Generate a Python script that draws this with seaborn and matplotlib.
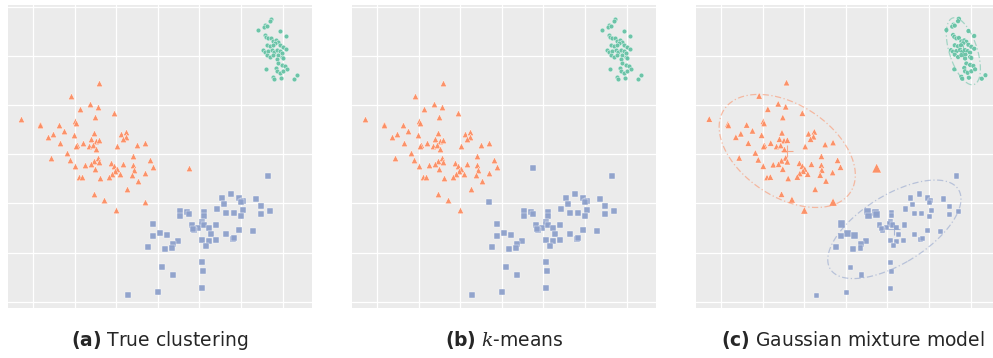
import numpy as np
import pandas as pd
import matplotlib
matplotlib.use("Agg")
import matplotlib.pyplot as plt
import seaborn as sns

# ---------------------------------------------------------------------------
# Data: three 2-D clusters (feature space units, grid spacing = 1)
# ---------------------------------------------------------------------------
c1_x = [5.72, 5.70, 5.59, 5.56, 5.62, 5.42, 5.95, 6.09, 5.58, 5.61,
        5.66, 5.72, 5.78, 5.85, 5.90, 5.82, 5.62, 5.70, 5.77, 5.95,
        6.02, 6.09, 5.53, 5.58, 5.66, 5.75, 5.80, 5.87, 5.93, 5.62,
        5.70, 5.78, 5.88, 5.99, 5.87, 5.99, 6.02, 5.90, 5.99, 6.07,
        5.61, 5.85, 5.87, 5.93, 6.02, 6.11, 5.78, 5.80, 5.96, 6.27, 6.36]
c1_y = [5.76, 5.71, 5.64, 5.60, 5.62, 5.53, 5.51, 5.41, 5.43, 5.39,
        5.36, 5.37, 5.30, 5.32, 5.29, 5.26, 5.22, 5.20, 5.22, 5.23,
        5.19, 5.15, 5.12, 5.09, 5.10, 5.13, 5.09, 5.12, 5.10, 5.03,
        4.98, 5.02, 5.03, 5.07, 4.95, 4.98, 4.96, 4.85, 4.82, 4.80,
        4.73, 4.76, 4.69, 4.66, 4.69, 4.73, 4.58, 4.54, 4.56, 4.54, 4.61]

c2_x = [1.57, 0.91, 1.37, 1.55, 1.12, 1.95, 1.48, -0.29, 1.01, 1.03,
        0.16, 0.17, 0.61, 0.75, 1.46, 0.47, 0.97, 2.10, 2.24, 2.22,
        2.15, 0.35, 1.40, 1.51, 1.59, 0.65, 1.19, 1.04, 1.02, 1.33,
        1.43, 1.52, 2.02, 2.50, 2.69, 0.82, 0.43, 1.55, 0.89, 1.45,
        1.59, 2.41, 2.80, 1.01, 1.25, 1.38, 1.88, 1.95, 2.17, 2.41,
        2.87, 1.48, 2.01, 1.97, 2.42, 1.89, 2.08, 2.68, 1.10, 1.18,
        1.61, 1.83, 2.38, 2.52, 3.74, 2.26, 1.45, 1.70, 2.69, 2.00]
c2_y = [4.46, 4.19, 4.03, 3.97, 3.92, 3.84, 3.75, 3.72, 3.67, 3.63,
        3.62, 3.59, 3.60, 3.48, 3.44, 3.42, 3.39, 3.42, 3.46, 3.36,
        3.31, 3.35, 3.31, 3.28, 3.29, 3.23, 3.23, 3.18, 3.16, 3.16,
        3.18, 3.10, 3.16, 3.20, 3.24, 3.03, 2.93, 2.93, 2.89, 2.87,
        2.85, 2.96, 2.88, 2.76, 2.79, 2.80, 2.82, 2.76, 2.80, 2.78,
        2.74, 2.70, 2.70, 2.66, 2.68, 2.61, 2.60, 2.63, 2.53, 2.54,
        2.51, 2.54, 2.58, 2.46, 2.72, 2.29, 2.19, 2.08, 2.03, 1.86]

c3_x = [5.66, 4.77, 4.55, 4.96, 5.04, 5.01, 5.35, 4.60, 5.49, 4.43,
        5.06, 5.71, 3.52, 3.71, 4.10, 3.54, 3.74, 4.10, 4.65, 4.82,
        5.49, 5.01, 2.89, 3.81, 4.07, 4.06, 3.97, 3.88, 3.85, 4.12,
        4.22, 4.41, 3.04, 3.21, 2.89, 4.27, 4.65, 4.96, 5.28, 3.49,
        3.37, 4.07, 4.22, 4.39, 4.80, 4.84, 4.15, 2.77, 3.16, 3.35,
        3.11, 4.07, 4.09, 3.37, 4.07, 3.01, 2.29]
c3_y = [2.56, 2.19, 2.11, 2.11, 2.06, 2.02, 2.09, 1.98, 1.94, 1.89,
        1.86, 1.84, 1.84, 1.82, 1.82, 1.75, 1.78, 1.75, 1.80, 1.80,
        1.78, 1.74, 1.58, 1.56, 1.62, 1.58, 1.51, 1.46, 1.49, 1.56,
        1.51, 1.56, 1.39, 1.35, 1.33, 1.37, 1.37, 1.45, 1.43, 1.23,
        1.18, 1.25, 1.23, 1.25, 1.27, 1.29, 1.14, 1.11, 1.07, 1.09,
        0.70, 0.80, 0.62, 0.54, 0.27, 0.19, 0.13]

# k-means assigns these members of cluster 2 to cluster 3
kmeans_c2_to_c3 = [64, 68]

# GMM uncertainty -> marker area multiplier (only the non-trivial ones)
gmm_c2_idx = [64, 68, 69, 67]
gmm_c2_scale = [2.2, 1.6, 1.3, 1.15]
gmm_c3_idx = [22, 12, 13, 16, 15, 32, 33, 34, 39, 40, 47, 48, 49]
gmm_c3_scale = [2.0, 1.9, 1.5, 1.5, 1.4, 1.6, 1.5, 1.3, 1.2, 1.2, 1.3, 1.3, 1.2]

# GMM component contour radius (in standard deviations)
gmm_contour_std = {"c1": 2.1, "c2": 2.2, "c3": 2.0}

captions = [r"$\mathbf{(a)}$ True clustering",
            r"$\mathbf{(b)}$ $k$-means",
            r"$\mathbf{(c)}$ Gaussian mixture model"]

# ---------------------------------------------------------------------------
# Build the table
# ---------------------------------------------------------------------------
frames = []
for name, xs, ys in (("c1", c1_x, c1_y), ("c2", c2_x, c2_y), ("c3", c3_x, c3_y)):
    f = pd.DataFrame({"x": xs, "y": ys})
    f["true"] = name
    f["idx"] = np.arange(len(xs))
    frames.append(f)
df = pd.concat(frames, ignore_index=True)

df["kmeans"] = df["true"]
df.loc[(df["true"] == "c2") & df["idx"].isin(kmeans_c2_to_c3), "kmeans"] = "c3"
df["gmm"] = df["true"]
df["gmm_w"] = 1.0
for i, s in zip(gmm_c2_idx, gmm_c2_scale):
    df.loc[(df["true"] == "c2") & (df["idx"] == i), "gmm_w"] = s
for i, s in zip(gmm_c3_idx, gmm_c3_scale):
    df.loc[(df["true"] == "c3") & (df["idx"] == i), "gmm_w"] = s

palette = {"c1": "#66c2a5", "c2": "#fc8d62", "c3": "#8da0cb"}
markers = {"c1": "o", "c2": "^", "c3": "s"}
base_s = {"c1": 12, "c2": 22, "c3": 15}

# ---------------------------------------------------------------------------
# Style
# ---------------------------------------------------------------------------
sns.set_theme(style="darkgrid", rc={
    "axes.facecolor": "#ebebeb",
    "grid.color": "white",
    "grid.linewidth": 0.9,
    "axes.edgecolor": "#ebebeb",
})
plt.rcParams["font.family"] = ["DejaVu Sans"]
plt.rcParams["mathtext.fontset"] = "custom"
plt.rcParams["mathtext.rm"] = "DejaVu Sans"
plt.rcParams["mathtext.bf"] = "DejaVu Sans:bold"
plt.rcParams["mathtext.it"] = "DejaVu Serif:italic"

W, H = 993, 358
fig = plt.figure(figsize=(W / 100, H / 100), dpi=100)
lefts = [8, 352, 696]
columns = ["true", "kmeans", "gmm"]
caption_x = [160, 504, 853]


def draw_ellipse(ax, pts, color, n_std):
    mean = pts.mean(axis=0)
    cov = np.cov(pts.T)
    vals, vecs = np.linalg.eigh(cov)
    t = np.linspace(0, 2 * np.pi, 200)
    circ = np.vstack([np.cos(t), np.sin(t)])
    ell = (vecs @ np.diag(np.sqrt(vals)) @ circ) * n_std
    ax.plot(mean[0] + ell[0], mean[1] + ell[1], color=color, alpha=0.55,
            lw=0.9, ls=(0, (5, 2, 1, 2)))
    ax.plot(mean[0], mean[1], marker="+", ms=9, mew=0.8, color=color, alpha=0.7)


for k, (left, col) in enumerate(zip(lefts, columns)):
    ax = fig.add_axes([left / W, (H - 308.3) / H, 304 / W, 303.3 / H])
    for lab in ["c1", "c2", "c3"]:
        sub = df[df[col] == lab]
        if col == "gmm":
            sns.scatterplot(data=sub, x="x", y="y", size="gmm_w",
                            sizes=(base_s[lab], base_s[lab] * 2.2),
                            size_norm=(1.0, 2.2), color=palette[lab],
                            marker=markers[lab], edgecolor="white",
                            linewidth=0.3, alpha=0.95, legend=False, ax=ax)
        else:
            sns.scatterplot(data=sub, x="x", y="y", s=base_s[lab],
                            color=palette[lab], marker=markers[lab],
                            edgecolor="white", linewidth=0.3, alpha=0.95,
                            legend=False, ax=ax)
    if col == "gmm":
        for lab in ["c1", "c2", "c3"]:
            sub = df[df[col] == lab]
            draw_ellipse(ax, sub[["x", "y"]].to_numpy(), palette[lab],
                         gmm_contour_std[lab])

    ax.set_xlim(-0.61, 6.71)
    ax.set_ylim(-0.134, 6.04)
    ax.set_xticks(range(0, 7))
    ax.set_yticks(range(0, 7))
    ax.tick_params(labelbottom=False, labelleft=False, length=0)
    ax.set_xlabel("")
    ax.set_ylabel("")
    for sp in ax.spines.values():
        sp.set_visible(False)

    fig.text(caption_x[k] / W, 1 - 340 / H, captions[k], ha="center",
             va="center", fontsize=13.5)

fig.savefig("out.png", dpi=100)
